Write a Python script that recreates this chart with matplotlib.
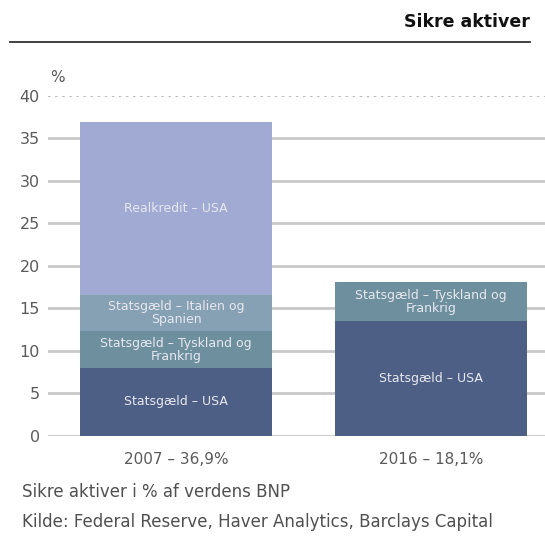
import matplotlib.pyplot as plt
from matplotlib.lines import Line2D
import numpy as np

# data
categories = ['2007 – 36,9%', '2016 – 18,1%']
segments = ['Statsgæld – USA', 'Statsgæld – Tyskland og\nFrankrig',
            'Statsgæld – Italien og\nSpanien', 'Realkredit – USA']
values_2007 = [8.0, 4.3, 4.3, 20.3]
values_2016 = [13.5, 4.6, 0.0, 0.0]
seg_colors = ['#4e5f86', '#6e8f9e', '#86a0b4', '#a0aad2']
yticks = [0, 5, 10, 15, 20, 25, 30, 35, 40]

fig = plt.figure(figsize=(5.45, 5.36), dpi=100)
ax = fig.add_axes([0.088, 0.187, 0.912, 0.634])

x = np.arange(len(categories))
data = np.array([values_2007, values_2016])
bottoms = np.zeros(len(categories))

# gridlines (top one dotted)
for t in yticks:
    if t == yticks[-1]:
        ax.axhline(t, color='#bdbdbd', lw=1.5, dashes=(1.2, 2.2), zorder=0)
    else:
        ax.axhline(t, color='#c8c8c8', lw=2, zorder=0)

for i, seg in enumerate(segments):
    vals = data[:, i]
    ax.bar(x, vals, width=0.753, bottom=bottoms, color=seg_colors[i],
           edgecolor='none', zorder=2)
    for xi, v, b in zip(x, vals, bottoms):
        if v > 0:
            ax.text(xi, b + v / 2, seg, ha='center', va='center',
                    fontsize=9, color='#e6e8f0', linespacing=1.0, zorder=3)
    bottoms += vals

ax.set_xlim(-0.502, 1.447)
ax.set_ylim(0, 40)
ax.set_yticks(yticks)
ax.set_xticks(x)
ax.set_xticklabels(categories)
ax.tick_params(axis='both', length=0, labelcolor='#5a5a5a')
ax.tick_params(axis='y', pad=6, labelsize=11.5)
ax.tick_params(axis='x', pad=12, labelsize=11)
for s in ax.spines.values():
    s.set_visible(False)

fig.text(0.105, 0.856, '%', ha='center', va='center', fontsize=11, color='#5a5a5a')

fig.text(0.972, 0.959, 'Sikre aktiver', ha='right', va='center',
         fontsize=12.5, fontweight='bold', color='#111111')
fig.add_artist(Line2D([10 / 545, 530 / 545], [1 - 42 / 536] * 2,
                      color='#333333', lw=1.3))

fig.text(0.04, 0.082, 'Sikre aktiver i % af verdens BNP', ha='left',
         va='center', fontsize=12, color='#505050')
fig.text(0.04, 0.026, 'Kilde: Federal Reserve, Haver Analytics, Barclays Capital',
         ha='left', va='center', fontsize=12, color='#505050')

fig.savefig('out.png', dpi=100)
